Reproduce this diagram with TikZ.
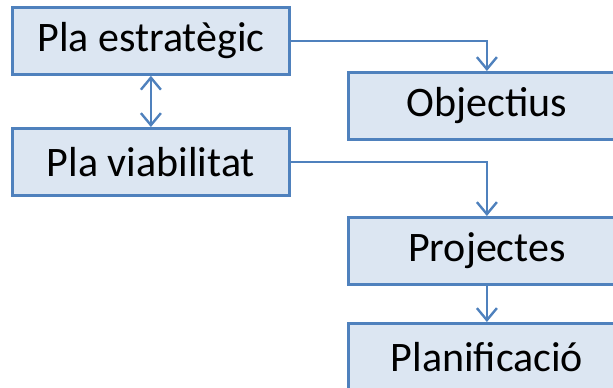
\documentclass[tikz,border=0pt]{standalone}
\usepackage{fontspec}
\setmainfont{Carlito}
\usetikzlibrary{arrows.meta}
\definecolor{boxfill}{HTML}{DCE6F2}
\definecolor{boxline}{HTML}{4F81BD}
\begin{document}
\begin{tikzpicture}[x=1pt,y=-1pt,
  box/.style={draw=boxline,fill=boxfill,line width=2.8pt,minimum width=277pt,minimum height=67pt,inner sep=0pt,font=\fontsize{42}{44}\selectfont,anchor=north west},
  tip/.style={Straight Barb[length=12pt,width=20pt,line width=2.4pt]},
  conn/.style={draw=boxline,line width=2.4pt,-{Straight Barb[length=12pt,width=20pt]}},
  dconn/.style={draw=boxline,line width=2.4pt,{Straight Barb[length=12pt,width=20pt]}-{Straight Barb[length=12pt,width=20pt]}}]
\useasboundingbox (0,0) rectangle (613,388);
\clip (0,0) rectangle (613,388);
\node[box] (est) at (11,6) {Pla estratègic};
\node[box] (via) at (11,127) {Pla viabilitat};
\node[box] (obj) at (347,71) {Objectius};
\node[box] (proj) at (347,216) {Projectes};
\node[box] (plan) at (347,322) {Planificació};
\draw[conn] (est.east) -| (obj.north);
\draw[conn] (via.east) -| (proj.north);
\draw[conn] (proj.south) -- (plan.north);
\draw[dconn] (est.south) -- (via.north);
\end{tikzpicture}
\end{document}
